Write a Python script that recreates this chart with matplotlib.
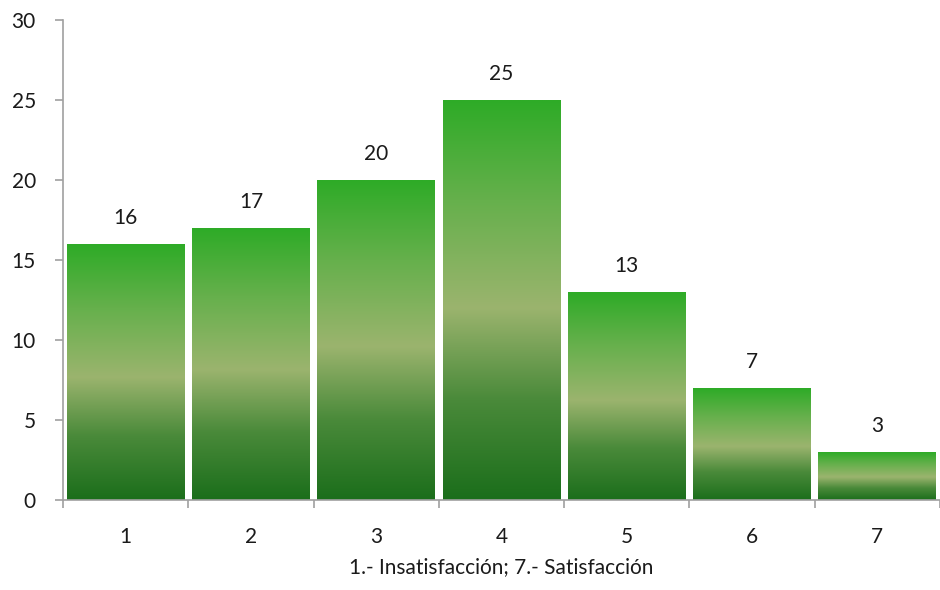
import numpy as np
import matplotlib
matplotlib.use("Agg")
import matplotlib.pyplot as plt
from matplotlib.colors import LinearSegmentedColormap

categories = ["1", "2", "3", "4", "5", "6", "7"]
values = [16, 17, 20, 25, 13, 7, 3]
x_label = "1.- Insatisfacción; 7.- Satisfacción"
y_ticks = [0, 5, 10, 15, 20, 25, 30]

plt.rcParams["font.family"] = ["Lato", "DejaVu Sans"]
FS = 15

fig = plt.figure(figsize=(9.4, 5.9), dpi=100)
ax = fig.add_axes([0.067, 0.1525, 0.933, 0.8135])

# vertical gradient: dark green at base, sage in the middle, bright green on top
grad = LinearSegmentedColormap.from_list(
    "bar_green",
    [(0.0, "#1b6e1b"), (0.25, "#4a8a3a"), (0.48, "#9bb46e"), (0.75, "#66b04c"), (1.0, "#2eab27")],
)
g = np.linspace(0, 1, 256).reshape(-1, 1)

xs = np.arange(len(categories))
width = 0.94
bars = ax.bar(xs, values, width=width, color="none", edgecolor="none")
for b, v in zip(bars, values):
    x0 = b.get_x()
    im = ax.imshow(g, cmap=grad, origin="lower", aspect="auto",
                   extent=[x0, x0 + b.get_width(), 0, v], zorder=2)
    im.set_clip_path(b)
    ax.annotate(str(v), (b.get_x() + b.get_width() / 2, v), xytext=(0, 11.5),
                textcoords="offset points", ha="center", va="bottom",
                fontsize=FS, color="#1a1a1a")

ax.set_xlim(-0.5, len(categories) - 0.5)
ax.set_ylim(0, 30)
ax.set_yticks(y_ticks)
ax.set_yticklabels([str(t) for t in y_ticks], fontsize=FS, color="#1a1a1a")

# category boundary tick marks, labels centred under the bars
ax.set_xticks(np.arange(len(categories) + 1) - 0.5)
ax.set_xticklabels([""] * (len(categories) + 1))
ax.set_xticks(xs, minor=True)
ax.set_xticklabels(categories, minor=True, fontsize=FS, color="#1a1a1a")
ax.tick_params(axis="x", which="minor", length=0, pad=19.5)
ax.tick_params(axis="x", which="major", length=6, color="#a0a0a0", width=1.2)
ax.tick_params(axis="y", length=6, color="#a0a0a0", width=1.2, pad=13.5)

for side in ("top", "right"):
    ax.spines[side].set_visible(False)
for side in ("left", "bottom"):
    ax.spines[side].set_color("#a0a0a0")
    ax.spines[side].set_linewidth(1.2)

ax.set_xlabel(x_label, fontsize=FS, color="#1a1a1a", labelpad=7.5)

fig.savefig("out.png", dpi=100)
